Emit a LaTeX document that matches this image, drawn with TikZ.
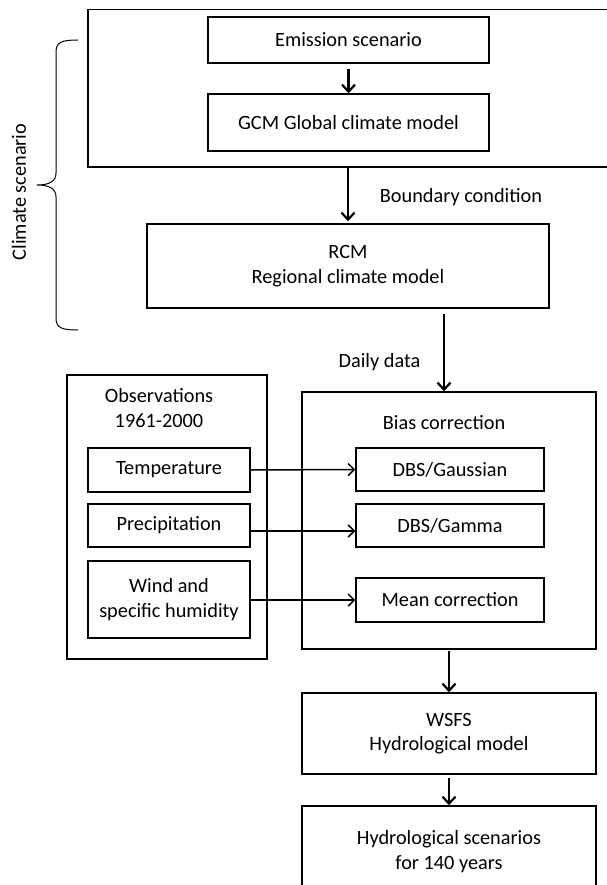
\documentclass[tikz,border=0pt]{standalone}
\usepackage{fontspec}
\setmainfont{Carlito}
\usetikzlibrary{arrows.meta}

\begin{document}
\begin{tikzpicture}[x=1pt,y=-1pt,
  font=\fontsize{20.3}{24.5}\selectfont,
  box/.style={draw,line width=1.5pt,inner sep=0pt,align=center},
  lbl/.style={align=center,inner sep=0pt},
  flow/.style={line width=2.2pt,-{Straight Barb[length=7pt,width=13pt]}},
  feed/.style={line width=1.5pt,-{Straight Barb[length=6pt,width=12pt]}}]
\useasboundingbox (0,0) rectangle (606,885);
% climate scenario part
\node[box,minimum width=528pt,minimum height=157.5pt] (gcmframe) at (352,88.25) {};
\node[box,minimum width=281pt,minimum height=46pt] (emis) at (348.5,40) {Emission scenario};
\node[box,minimum width=281pt,minimum height=57pt] (gcm) at (348.5,122.5) {\raisebox{-4pt}{GCM Global climate model}};
\node[box,minimum width=402pt,minimum height=84pt] (rcm) at (348,266) {RCM\\Regional climate model};
\node[lbl] (bndlbl) at (461,197) {Boundary condition};
\node[lbl,rotate=90] (climlbl) at (19,192) {Climate scenario};
\coordinate (bracetop) at (78,40);
\coordinate (bracetip) at (37,185);
\coordinate (bracebot) at (78,330);
\draw[line width=1pt] (bracetop) .. controls (62,40) and (56,42) .. (56,52) -- (56,173)
  .. controls (56,181) and (50,185) .. (bracetip)
  .. controls (50,185) and (56,189) .. (56,197) -- (56,318)
  .. controls (56,328) and (62,330) .. (bracebot);
\draw[flow,shorten <=5pt] (emis.south) -- (gcm.north);
\draw[flow,shorten >=2pt] (rcm.north |- gcmframe.south) -- (rcm.north);
% observations
\node[box,minimum width=200pt,minimum height=284pt] (obsframe) at (167,517) {};
\node[lbl] (obslbl) at (159,408) {Observations\\1961-2000};
\node[box,minimum width=162pt,minimum height=44pt] (temp) at (169,470) {Temperature};
\node[box,minimum width=162pt,minimum height=43pt] (precip) at (169,525.5) {Precipitation};
\node[box,minimum width=162pt,minimum height=77pt] (wind) at (169,599.5) {Wind and\\specific humidity};
% bias correction
\node[box,minimum width=294pt,minimum height=257pt] (biasframe) at (449,520.5) {};
\node[lbl] (biaslbl) at (444,423) {Bias correction};
\node[box,minimum width=188pt,minimum height=43pt] (gauss) at (450,469.5) {DBS/Gaussian};
\node[box,minimum width=188pt,minimum height=43pt] (gamma) at (450,525.5) {DBS/Gamma};
\node[box,minimum width=188pt,minimum height=44pt] (mean) at (450,600) {Mean correction};
\node[lbl] (daylbl) at (379.5,362) {Daily data};
\draw[flow,shorten <=5pt] (biaslbl.north |- rcm.south) -- (biaslbl.north |- biasframe.north);
\draw[feed] (temp.east) -- (gauss.west);
\draw[feed] ([yshift=-5.5pt]precip.east) -- ([yshift=-5.5pt]gamma.west);
\draw[feed] (wind.east |- mean) -- (mean.west);
% hydrology
\node[box,minimum width=294pt,minimum height=81pt] (wsfs) at (449,733.5) {WSFS\\Hydrological model};
\node[box,minimum width=294pt,minimum height=91pt] (hydro) at (449,851.5) {Hydrological scenarios\\for 140 years};
\draw[flow,shorten <=1pt] (wsfs.north |- biasframe.south) -- (wsfs.north);
\draw[flow,shorten <=3pt] (wsfs.south) -- (hydro.north);
\end{tikzpicture}
\end{document}
